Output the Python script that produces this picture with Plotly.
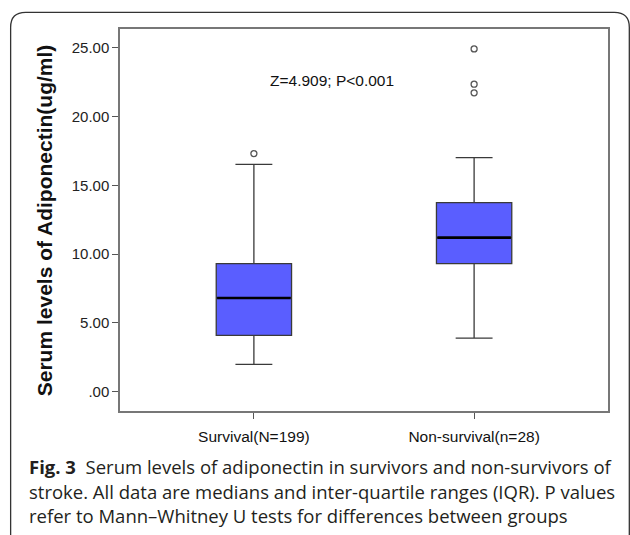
import plotly.graph_objects as go

# ---- data ----
groups = ["Survival(N=199)", "Non-survival(n=28)"]
q1 = [4.08, 9.30]
median = [6.80, 11.19]
q3 = [9.30, 13.74]
lower_whisker = [1.97, 3.88]
upper_whisker = [16.53, 17.02]
outliers_survival = [17.31]
outliers_nonsurvival = [24.93, 22.36, 21.73]
y_ticks = [0, 5, 10, 15, 20, 25]
y_tick_labels = [".00", "5.00", "10.00", "15.00", "20.00", "25.00"]
stat_text = "Z=4.909; P<0.001"
caption_lines = [
    "<b>Fig. 3</b>  Serum levels of adiponectin in survivors and non-survivors of",
    "stroke. All data are medians and inter-quartile ranges (IQR). P values",
    "refer to Mann\u2013Whitney U tests for differences between groups",
]

box_w = 0.342
pos = [0, 1]
fill = "rgb(90,94,255)"

fig = go.Figure()
for i in range(len(groups)):
    fig.add_trace(go.Box(
        x=[pos[i]], q1=[q1[i]], median=[median[i]], q3=[q3[i]],
        lowerfence=[lower_whisker[i]], upperfence=[upper_whisker[i]],
        width=box_w, whiskerwidth=0.49, fillcolor=fill,
        line=dict(color="#3a3a3a", width=1.3), boxpoints=False,
        showlegend=False, hoverinfo="skip",
    ))
    # thick black median line
    fig.add_trace(go.Scatter(
        x=[pos[i] - box_w / 2 + 0.004, pos[i] + box_w / 2 - 0.004],
        y=[median[i], median[i]], mode="lines",
        line=dict(color="black", width=2.6), showlegend=False, hoverinfo="skip",
    ))

fig.add_trace(go.Scatter(
    x=[pos[0]] * len(outliers_survival) + [pos[1]] * len(outliers_nonsurvival),
    y=outliers_survival + outliers_nonsurvival, mode="markers",
    marker=dict(symbol="circle-open", size=6, color="#555", line=dict(width=1.3)),
    showlegend=False, hoverinfo="skip",
))

arial = "Liberation Sans, Arial, sans-serif"

fig.update_layout(
    width=630, height=535,
    margin=dict(l=120, r=22, t=29, b=124),
    paper_bgcolor="white", plot_bgcolor="white",
    xaxis=dict(range=[-0.608, 1.608], tickvals=pos, ticktext=groups,
               showgrid=False, zeroline=False, showline=True, mirror=True,
               linecolor="#777", linewidth=1.5, ticks="outside", ticklen=6,
               tickcolor="#555", tickwidth=1.3, ticklabelstandoff=5,
               tickfont=dict(family=arial, size=15.5, color="#111")),
    yaxis=dict(range=[-1.43, 26.38], tickvals=y_ticks, ticktext=y_tick_labels,
               showgrid=False, zeroline=False, showline=True, mirror=True,
               linecolor="#777", linewidth=1.5, ticks="outside", ticklen=6,
               tickcolor="#555", tickwidth=1.3,
               tickfont=dict(family=arial, size=15, color="#222")),
)

fig.add_annotation(x=0.353, y=22.65, xref="x", yref="y", text=stat_text,
                   showarrow=False, font=dict(family=arial, size=15.5, color="#111"))

fig.add_annotation(x=(44 - 120) / 487.7, y=(410.7 - 220) / 382, xref="paper", yref="paper",
                   text="<b>Serum levels of Adiponectin(ug/ml)</b>", textangle=-90,
                   showarrow=False, xanchor="center", yanchor="middle",
                   font=dict(family=arial, size=21, color="#111"))

cap_y = [466, 491, 515]
for t, py in zip(caption_lines, cap_y):
    fig.add_annotation(x=(27 - 120) / 487.7, y=(410.7 - py) / 382, xref="paper", yref="paper",
                       text=t, showarrow=False, xanchor="left", yanchor="middle", align="left",
                       font=dict(family="Open Sans, Noto Sans, sans-serif", size=18.5, color="#231f20"))

# outer rounded frame
def px(x):
    return (x - 120) / 487.7

def py_(y):
    return (410.7 - y) / 382

L, R, T, B, r = 10.7, 629, 12, 540, 15
path = (f"M {px(L)},{py_(B)} L {px(L)},{py_(T + r)} Q {px(L)},{py_(T)} {px(L + r)},{py_(T)} "
        f"L {px(R - r)},{py_(T)} Q {px(R)},{py_(T)} {px(R)},{py_(T + r)} L {px(R)},{py_(B)}")
fig.add_shape(type="path", path=path, xref="paper", yref="paper",
              line=dict(color="#333", width=1.3))

fig.write_html("out.html", config={"displayModeBar": False},
               post_script="document.body.style.margin='0';document.body.style.padding='0';")
